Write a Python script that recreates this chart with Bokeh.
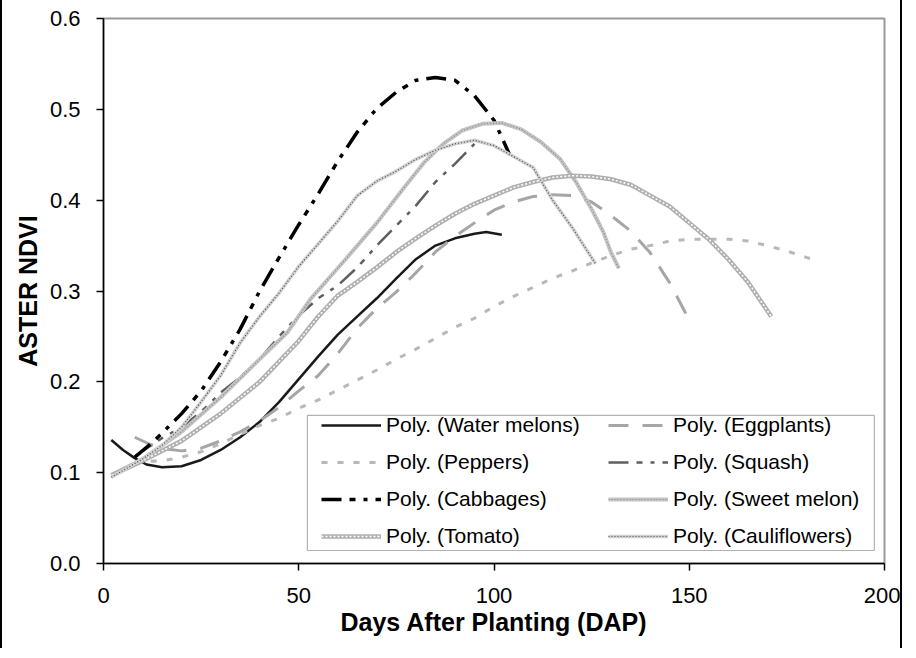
from bokeh.plotting import figure
from bokeh.models import (Range1d, FixedTicker, NumeralTickFormatter, Legend, LegendItem,
                          BoxAnnotation)
from bokeh.embed import file_html
from bokeh.resources import INLINE

# ---- data ----
wm_dap = [2, 5, 8, 11, 15, 20, 25, 30, 35, 40, 45, 50, 55, 60, 65, 70, 75, 80, 85, 90, 95, 98, 102]
wm_ndvi = [0.136, 0.125, 0.116, 0.109, 0.106, 0.107, 0.114, 0.125, 0.139, 0.156, 0.178, 0.203, 0.228,
           0.252, 0.272, 0.292, 0.314, 0.335, 0.350, 0.358, 0.363, 0.365, 0.362]

egg_dap = [8, 12, 16, 20, 25, 30, 35, 40, 45, 50, 55, 60, 65, 70, 75, 80, 85, 90, 95, 100, 105, 110,
           115, 120, 125, 130, 135, 140, 145, 150]
egg_ndvi = [0.139, 0.131, 0.126, 0.124, 0.127, 0.135, 0.145, 0.157, 0.172, 0.190, 0.207, 0.231, 0.259,
            0.281, 0.299, 0.320, 0.343, 0.360, 0.375, 0.389, 0.398, 0.404, 0.406, 0.405, 0.398, 0.383,
            0.366, 0.342, 0.309, 0.268]

pep_dap = [8, 15, 20, 25, 30, 35, 40, 45, 50, 55, 60, 65, 70, 75, 80, 85, 90, 95, 100, 105, 110, 115,
           120, 125, 130, 135, 140, 145, 150, 155, 160, 165, 170, 175, 180, 183]
pep_ndvi = [0.112, 0.113, 0.117, 0.123, 0.132, 0.142, 0.152, 0.160, 0.171, 0.180, 0.191, 0.202, 0.213,
            0.225, 0.236, 0.248, 0.260, 0.270, 0.283, 0.294, 0.304, 0.314, 0.322, 0.331, 0.339, 0.346,
            0.350, 0.355, 0.357, 0.357, 0.357, 0.355, 0.350, 0.344, 0.337, 0.333]

sq_dap = [8, 15, 20, 25, 30, 35, 40, 45, 50, 55, 60, 65, 70, 75, 80, 85, 90, 95]
sq_ndvi = [0.118, 0.138, 0.150, 0.167, 0.188, 0.205, 0.225, 0.250, 0.273, 0.292, 0.306, 0.326, 0.350,
           0.372, 0.394, 0.420, 0.440, 0.462]

cab_dap = [8, 13, 20, 25, 30, 35, 40, 45, 50, 55, 60, 65, 70, 75, 80, 85, 90, 95, 100, 104]
cab_ndvi = [0.117, 0.135, 0.165, 0.190, 0.222, 0.258, 0.300, 0.337, 0.373, 0.407, 0.443, 0.475, 0.501,
            0.519, 0.532, 0.535, 0.532, 0.515, 0.488, 0.450]

sm_dap = [2, 10, 20, 30, 40, 47, 53, 62, 70, 77, 82, 87, 92, 97, 102, 107, 112, 117, 121, 125, 128, 130, 132]
sm_ndvi = [0.097, 0.115, 0.145, 0.183, 0.225, 0.254, 0.291, 0.335, 0.375, 0.414, 0.441, 0.462, 0.477,
           0.484, 0.485, 0.478, 0.464, 0.445, 0.420, 0.390, 0.365, 0.342, 0.325]

tom_dap = [2, 10, 20, 30, 40, 50, 55, 60, 65, 70, 75, 80, 85, 90, 95, 100, 105, 110, 115, 120, 125, 130,
           135, 140, 145, 150, 155, 160, 165, 171]
tom_ndvi = [0.097, 0.113, 0.135, 0.165, 0.200, 0.245, 0.272, 0.295, 0.310, 0.326, 0.343, 0.358, 0.372,
            0.385, 0.396, 0.405, 0.414, 0.420, 0.425, 0.427, 0.426, 0.423, 0.417, 0.405, 0.393, 0.375,
            0.357, 0.335, 0.310, 0.272]

cau_dap = [2, 10, 15, 20, 25, 30, 35, 40, 45, 50, 55, 60, 65, 70, 75, 80, 85, 90, 95, 100, 105, 110,
           115, 120, 126]
cau_ndvi = [0.095, 0.115, 0.130, 0.150, 0.178, 0.207, 0.243, 0.272, 0.298, 0.327, 0.352, 0.377, 0.405,
            0.421, 0.432, 0.445, 0.455, 0.462, 0.466, 0.460, 0.448, 0.436, 0.400, 0.370, 0.330]

x_ticks = [0, 50, 100, 150, 200]
y_ticks = [0.0, 0.1, 0.2, 0.3, 0.4, 0.5, 0.6]

FONT = "Liberation Sans"

p = figure(width=902, height=651, output_backend="svg", toolbar_location=None,
           x_range=Range1d(0, 200), y_range=Range1d(0, 0.6),
           min_border_left=101, min_border_right=20, min_border_top=19, min_border_bottom=87)
p.styles = {"border": "2px solid #000000", "border-bottom": "none", "margin-top": "-3px"}

p.xgrid.visible = False
p.ygrid.visible = False
p.outline_line_color = "#9a9a9a"
p.outline_line_width = 2
p.background_fill_color = "white"
p.border_fill_color = "white"

for ax in (p.xaxis[0], p.yaxis[0]):
    ax.axis_line_color = "black"
    ax.axis_line_width = 1.5
    ax.major_tick_line_color = "black"
    ax.major_tick_line_width = 1.5
    ax.major_tick_out = 7
    ax.major_tick_in = 0
    ax.minor_tick_line_color = None
    ax.major_label_text_font = FONT
    ax.major_label_text_font_size = "22px"
    ax.major_label_text_color = "black"
    ax.axis_label_text_font = FONT
    ax.axis_label_text_font_size = "25px"
    ax.axis_label_text_font_style = "bold"
    ax.axis_label_text_color = "black"

p.xaxis.ticker = FixedTicker(ticks=x_ticks)
p.yaxis.ticker = FixedTicker(ticks=y_ticks)
p.yaxis.formatter = NumeralTickFormatter(format="0.0")
p.xaxis.axis_label = "Days After Planting (DAP)"
p.yaxis.axis_label = "ASTER NDVI"
p.xaxis.major_label_standoff = 17
p.xaxis.axis_label_standoff = 2
p.yaxis.major_label_standoff = 16
p.yaxis.axis_label_standoff = 5

r_wm = p.line(wm_dap, wm_ndvi, line_color="#1a1a1a", line_width=2.5)
r_egg = p.line(egg_dap, egg_ndvi, line_color="#a6a6a6", line_width=3, line_dash="20 14")
r_pep = p.line(pep_dap, pep_ndvi, line_color="#b8b8b8", line_width=3, line_dash="6 10")
r_sq = p.line(sq_dap, sq_ndvi, line_color="#5f5f5f", line_width=2.5, line_dash="20 8 6 8 4 8")
r_cab = p.line(cab_dap, cab_ndvi, line_color="black", line_width=3.5, line_dash="20 8 6 8 4 8")
r_sm1 = p.line(sm_dap, sm_ndvi, line_color="#c4c4c4", line_width=4)
r_sm2 = p.line(sm_dap, sm_ndvi, line_color="#8a8a8a", line_width=1.2, line_dash="1 2")
r_tom1 = p.line(tom_dap, tom_ndvi, line_color="#b0b0b0", line_width=4.5)
r_tom2 = p.line(tom_dap, tom_ndvi, line_color="#ffffff", line_width=1.5, line_dash="2 2")
r_cau1 = p.line(cau_dap, cau_ndvi, line_color="#d0d0d0", line_width=3.5)
r_cau2 = p.line(cau_dap, cau_ndvi, line_color="#505050", line_width=1.2, line_dash="1 2")

box = BoxAnnotation(left=52.2, right=197.4, bottom=0.0143, top=0.163,
                    fill_color="white", fill_alpha=1.0, line_color="black", line_width=1.2,
                    level="annotation")
p.add_layout(box)

# Bokeh fills legend columns top-to-bottom, so list column 1 first, then column 2
items = [
    LegendItem(label="Poly. (Water melons)", renderers=[r_wm]),
    LegendItem(label="Poly. (Peppers)", renderers=[r_pep]),
    LegendItem(label="Poly. (Cabbages)", renderers=[r_cab]),
    LegendItem(label="Poly. (Tomato)", renderers=[r_tom1, r_tom2]),
    LegendItem(label="Poly. (Eggplants)", renderers=[r_egg]),
    LegendItem(label="Poly. (Squash)", renderers=[r_sq]),
    LegendItem(label="Poly. (Sweet melon)", renderers=[r_sm1, r_sm2]),
    LegendItem(label="Poly. (Cauliflowers)", renderers=[r_cau1, r_cau2]),
]
legend = Legend(items=items, ncols=2, location=(218, 15), orientation="vertical",
                label_text_font=FONT, label_text_font_size="21px", label_text_color="black",
                glyph_width=60, glyph_height=20, label_height=20, label_width=209,
                label_standoff=5, spacing=13, padding=7, margin=0,
                border_line_color=None, background_fill_alpha=0.0)
p.add_layout(legend, "center")

open("out.html", "w").write(file_html(p, INLINE))
